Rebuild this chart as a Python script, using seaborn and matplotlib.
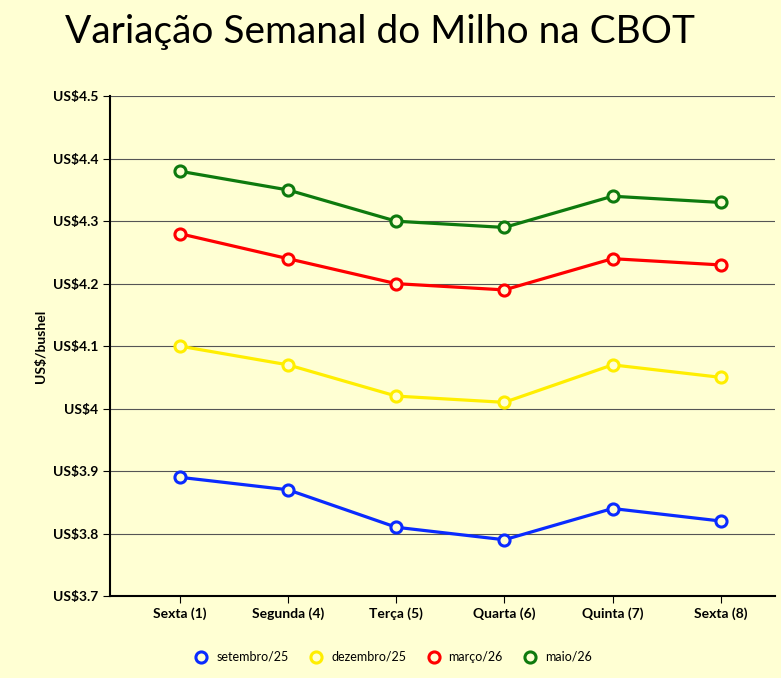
import matplotlib
matplotlib.use("Agg")
import matplotlib.pyplot as plt
import seaborn as sns
import pandas as pd

days = ["Sexta (1)", "Segunda (4)", "Terça (5)", "Quarta (6)", "Quinta (7)", "Sexta (8)"]
setembro = [3.89, 3.87, 3.81, 3.79, 3.84, 3.82]
dezembro = [4.10, 4.07, 4.02, 4.01, 4.07, 4.05]
marco = [4.28, 4.24, 4.20, 4.19, 4.24, 4.23]
maio = [4.38, 4.35, 4.30, 4.29, 4.34, 4.33]
series = ["setembro/25", "dezembro/25", "março/26", "maio/26"]
yticks = [3.7, 3.8, 3.9, 4.0, 4.1, 4.2, 4.3, 4.4, 4.5]
ylabels = ["US$3.7", "US$3.8", "US$3.9", "US$4", "US$4.1", "US$4.2", "US$4.3", "US$4.4", "US$4.5"]

bg = "#ffffd3"
colors = ["#0a2bff", "#ffee00", "#ff0000", "#0e7a0e"]

df = pd.DataFrame({
    "x": list(range(len(days))) * 4,
    "price": setembro + dezembro + marco + maio,
    "serie": [s for s in series for _ in days],
})

plt.rcParams["font.family"] = "Lato"
fig = plt.figure(figsize=(7.81, 6.78), dpi=100, facecolor=bg)
ax = fig.add_axes([0.141, 0.121, 0.851, 0.737], facecolor=bg)

sns.lineplot(data=df, x="x", y="price", hue="serie", palette=colors, marker="o",
             markersize=8, markerfacecolor=bg, markeredgewidth=2.2, linewidth=2.3,
             ax=ax, legend=False)
# seaborn paints marker edges white, put the line colour back
for line in ax.lines:
    line.set_markeredgecolor(line.get_color())

ax.set_xlim(-0.645, 5.5)
ax.set_ylim(3.7, 4.5)
ax.set_xticks(range(len(days)))
ax.set_xticklabels(days, fontsize=10, fontweight="bold")
ax.set_yticks(yticks)
ax.set_yticklabels(ylabels, fontsize=10, fontweight="bold")
ax.yaxis.grid(True, color="#555555", linewidth=0.8)
ax.set_axisbelow(True)
ax.set_xlabel("")
ax.set_ylabel("US$/bushel", fontsize=10, fontweight="bold")
for s in ["top", "right"]:
    ax.spines[s].set_visible(False)
ax.spines["left"].set_color("black")
ax.spines["bottom"].set_color("black")
ax.spines["left"].set_linewidth(1.5)
ax.spines["bottom"].set_linewidth(1.5)
ax.tick_params(axis="both", length=5, color="black")

fig.text(0.487, 0.953, "Variação Semanal do Milho na CBOT", ha="center", va="center", fontsize=28)

handles = [plt.Line2D([], [], color=c, marker="o", markersize=8, markerfacecolor=bg,
                      markeredgecolor=c, markeredgewidth=2.2, linestyle="none") for c in colors]
fig.legend(handles, series, loc="center", bbox_to_anchor=(0.5, 0.031), ncol=4,
           frameon=False, fontsize=9, handletextpad=0.2, columnspacing=1.2)

fig.savefig("out.png", dpi=100, facecolor=bg)
